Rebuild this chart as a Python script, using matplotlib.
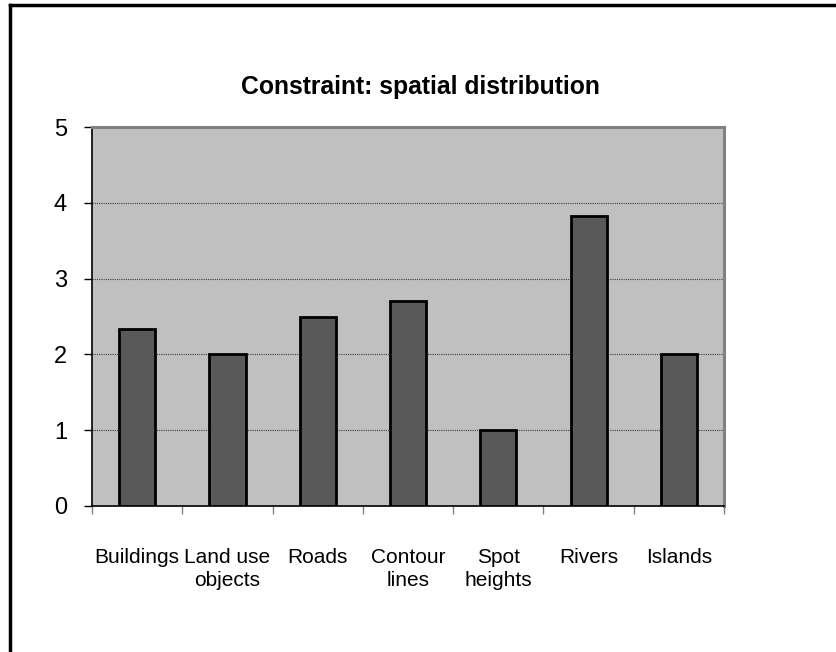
import numpy as np
import matplotlib.pyplot as plt
from matplotlib.lines import Line2D

categories = ['Buildings', 'Land use\nobjects', 'Roads', 'Contour\nlines',
              'Spot\nheights', 'Rivers', 'Islands']
values = [2.33, 2.0, 2.5, 2.7, 1.0, 3.83, 2.0]
yticks = [0, 1, 2, 3, 4, 5]

plt.rcParams['font.family'] = ['Liberation Sans', 'DejaVu Sans']

fig = plt.figure(figsize=(8.37, 6.52), dpi=100)
ax = fig.add_axes([0.110, 0.224, 0.755, 0.581])

x = np.arange(len(categories))
ax.set_facecolor('#c0c0c0')
ax.bar(x, values, width=0.4, color='#595959', edgecolor='black', linewidth=2.0, zorder=3)

ax.set_xlim(-0.5, len(categories) - 0.5)
ax.set_ylim(0, 5)
ax.set_yticks(yticks)
ax.set_yticklabels([str(t) for t in yticks], fontsize=17)
for t in yticks[1:-1]:
    ax.axhline(t, color='#404040', linestyle=(0, (1, 1)), linewidth=0.8, zorder=1)

# category boundary ticks on x
ax.set_xticks(np.arange(-0.5, len(categories) + 0.5, 1))
ax.set_xticklabels([])
ax.tick_params(axis='x', direction='out', length=6, color='#808080', width=1)
ax.tick_params(axis='y', direction='out', length=6, color='black', width=1, pad=12)
for i, lab in enumerate(categories):
    ax.text(i, -0.55, lab, ha='center', va='top', fontsize=15,
            transform=ax.transData, linespacing=1.3)

ax.spines['left'].set_color('black')
ax.spines['bottom'].set_color('black')
ax.spines['left'].set_linewidth(1.2)
ax.spines['bottom'].set_linewidth(1.2)
ax.spines['top'].set_color('#808080')
ax.spines['right'].set_color('#808080')
ax.spines['top'].set_linewidth(2.2)
ax.spines['right'].set_linewidth(2.2)

fig.text(0.502, 0.866, 'Constraint: spatial distribution', ha='center', va='center',
         fontsize=17.8, fontweight='bold')

# outer frame (left and top edges)
fig.add_artist(Line2D([0.012, 0.012], [0, 0.992], color='black', linewidth=2.5,
                      transform=fig.transFigure))
fig.add_artist(Line2D([0.012, 1.0], [0.992, 0.992], color='black', linewidth=2.5,
                      transform=fig.transFigure))

fig.savefig('out.png', dpi=100)
